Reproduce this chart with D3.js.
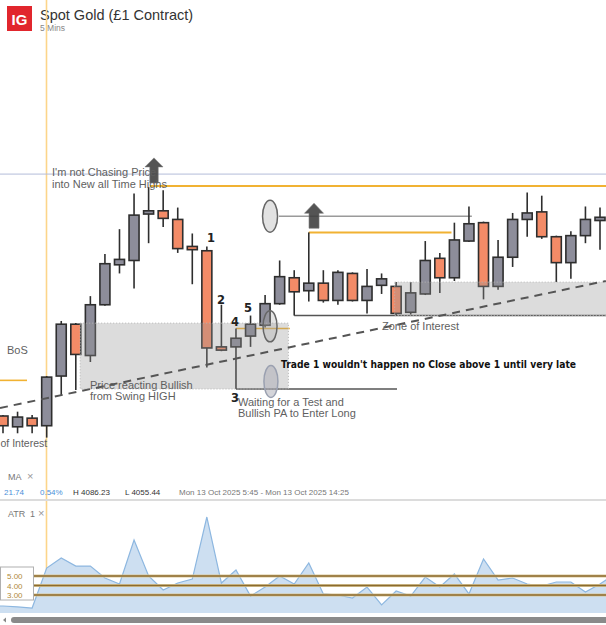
<!DOCTYPE html>
<html><head><meta charset="utf-8">
<script src="https://cdn.jsdelivr.net/npm/d3@7"></script>
<style>body{margin:0;background:#fff;overflow:hidden}svg{display:block}</style>
</head><body>
<svg id="c" width="606" height="625"></svg>
<script>
// ---- data (5-minute candles, Spot Gold) ----
const opens  = [4065.0,4064.0,4064.8,4064.1,4068.7,4073.5,4070.6,4075.3,4079.0,4079.4,4083.7,4084.0,4083.2,4080.7,4080.3,4071.4,4071.4,4072.4,4073.4,4075.4,4077.8,4076.6,4077.3,4075.7,4078.2,4075.7,4077.1,4077.0,4074.6,4076.3,4079.6,4077.8,4081.2,4082.9,4077.0,4079.7,4083.2,4083.9,4081.6,4079.2,4081.7,4083.1];
const highs  = [4065.1,4065.4,4065.1,4068.7,4073.8,4073.6,4076.1,4080.0,4082.3,4085.6,4086.2,4085.9,4084.3,4081.9,4080.7,4075.3,4073.1,4074.3,4076.2,4079.4,4078.5,4082.0,4078.5,4078.5,4078.3,4078.6,4078.2,4077.4,4077.4,4081.2,4080.1,4082.9,4084.4,4083.0,4081.3,4083.8,4085.7,4085.4,4081.7,4082.1,4084.4,4084.3];
const lows   = [4063.4,4063.4,4063.4,4063.0,4066.9,4067.4,4070.0,4075.2,4078.2,4076.8,4081.0,4082.5,4080.1,4077.2,4069.5,4071.0,4067.5,4071.4,4073.2,4075.3,4074.3,4075.6,4075.5,4075.3,4075.6,4074.5,4076.3,4074.3,4074.4,4076.2,4076.4,4077.5,4081.1,4075.8,4076.7,4078.8,4081.6,4081.4,4077.4,4077.7,4081.0,4080.4];
const closes = [4064.1,4064.9,4064.1,4068.6,4073.5,4070.7,4075.3,4079.1,4079.5,4083.6,4084.0,4083.3,4080.5,4080.4,4071.3,4071.1,4072.2,4073.5,4075.4,4077.9,4076.5,4077.3,4075.7,4078.3,4075.7,4077.0,4077.7,4074.5,4076.4,4079.4,4077.8,4081.3,4082.8,4077.0,4079.7,4083.2,4083.8,4081.6,4079.2,4081.7,4083.2,4083.4];
const atrValues = [1.84,1.74,1.63,5.84,6.89,6.05,6.05,4.79,4.16,8.79,5.0,3.53,4.26,4.68,11.21,4.26,5.63,2.89,3.84,5.0,4.16,6.37,3.11,3.0,2.68,3.84,1.95,3.42,2.89,4.89,3.84,5.21,3.11,6.79,4.58,4.79,4.16,3.95,4.37,4.37,3.32,4.16,5.2];
const atrLevels = [5, 4, 3];
const atrLevelLabels = ["5.00", "4.00", "3.00"];
const statsLine = [["21.74","#4a90d9",4],["0.54%","#4a90d9",40],["H 4086.23","#333",73],["L 4055.44","#333",125],["Mon 13 Oct 2025 5:45 - Mon 13 Oct 2025 14:25","#777",179]];

const candles = opens.map((o,i)=>({i, o, h:highs[i], l:lows[i], c:closes[i]}));

const svg = d3.select("#c");
const x  = d3.scaleLinear().domain([0, 41]).range([3, 600]);
const y  = d3.scaleLinear().domain([4060, 4090]).range([470, 146]);
const yA = d3.scaleLinear().domain([0, 12]).range([623.5, 509.5]);

const GREY = "#8d8d9a", ORANGE = "#f38b67", EDGE = "#2e2e2e", GOLD = "#f1b232", TXT = "#5f5f5f";
const sans = "'Liberation Sans', Arial, sans-serif";
const comic = "'Comic Sans MS', 'DejaVu Sans', sans-serif";

// header
svg.append("rect").attr("x",7).attr("y",6).attr("width",25).attr("height",25).attr("fill","#e1262d");
svg.append("text").attr("x",19.5).attr("y",25).attr("text-anchor","middle").attr("fill","#fff")
  .attr("font-family",sans).attr("font-weight","bold").attr("font-size",15).text("IG");
svg.append("text").attr("x",40).attr("y",20).attr("fill","#333").attr("font-family",sans).attr("font-size",14.5).text("Spot Gold (£1 Contract)");
svg.append("text").attr("x",40).attr("y",31).attr("fill","#888").attr("font-family",sans).attr("font-size",8.5).text("5 Mins");

// vertical crosshair
svg.append("line").attr("x1",46.5).attr("x2",46.5).attr("y1",0).attr("y2",613).attr("stroke","#fcd58a").attr("stroke-width",1.6);

// blue reference line
svg.append("line").attr("x1",0).attr("x2",606).attr("y1",y(4087.4)).attr("y2",y(4087.4)).attr("stroke","#b3bcd9").attr("stroke-width",1);

// ATH gold line
svg.append("line").attr("x1",x(10.1)).attr("x2",606).attr("y1",y(4086.3)).attr("y2",y(4086.3)).attr("stroke",GOLD).attr("stroke-width",2);
// grey level from ellipse
svg.append("line").attr("x1",x(18.95)).attr("x2",x(32.2)).attr("y1",y(4083.5)).attr("y2",y(4083.5)).attr("stroke","#9a9a9a").attr("stroke-width",1.5);
// gold line from candle 21 high
svg.append("line").attr("x1",x(21)).attr("x2",x(30.8)).attr("y1",y(4082.0)).attr("y2",y(4082.0)).attr("stroke",GOLD).attr("stroke-width",2);
// BoS gold line
svg.append("line").attr("x1",0).attr("x2",27).attr("y1",y(4068.3)).attr("y2",y(4068.3)).attr("stroke",GOLD).attr("stroke-width",1.6);
// short gold line near candle 5
svg.append("line").attr("x1",x(16)).attr("x2",x(19.7)).attr("y1",y(4073.1)).attr("y2",y(4073.1)).attr("stroke",GOLD).attr("stroke-width",1.5);
// low of candle "3" horizontal
svg.append("line").attr("x1",x(16)).attr("x2",x(27.06)).attr("y1",y(4067.5)).attr("y2",y(4067.5)).attr("stroke","#555").attr("stroke-width",1.5);
// zone bottom line
svg.append("line").attr("x1",x(20)).attr("x2",606).attr("y1",y(4074.3)).attr("y2",y(4074.3)).attr("stroke","#555").attr("stroke-width",1.5);

// candles
const g = svg.append("g");
g.selectAll("line.w").data(candles).join("line").attr("class","w")
  .attr("x1",d=>x(d.i)).attr("x2",d=>x(d.i)).attr("y1",d=>y(d.h)).attr("y2",d=>y(d.l))
  .attr("stroke",EDGE).attr("stroke-width",1.6);
g.selectAll("rect.b").data(candles).join("rect").attr("class","b")
  .attr("x",d=>x(d.i)-5).attr("width",10)
  .attr("y",d=>y(Math.max(d.o,d.c))).attr("height",d=>Math.max(2.5,Math.abs(y(d.o)-y(d.c))))
  .attr("fill",d=>d.c>=d.o?GREY:ORANGE).attr("stroke",EDGE).attr("stroke-width",1.6);

// zones (overlay)
svg.append("rect").attr("x",x(5.3)).attr("width",x(19.6)-x(5.3)).attr("y",y(4073.6)).attr("height",y(4067.5)-y(4073.6))
  .attr("fill","rgba(150,150,150,0.33)").attr("stroke","#b5b5b5").attr("stroke-dasharray","1,2");
svg.append("rect").attr("x",x(26.9)).attr("width",620-x(26.9)).attr("y",y(4077.4)).attr("height",y(4074.3)-y(4077.4))
  .attr("fill","rgba(150,150,150,0.33)").attr("stroke","#b5b5b5").attr("stroke-dasharray","1,2");

// dashed trend line
svg.append("line").attr("x1",x(-0.206)).attr("y1",y(4065.74)).attr("x2",x(41.4)).attr("y2",y(4077.5))
  .attr("stroke","#555").attr("stroke-width",2).attr("stroke-dasharray","8,6");

// ellipses
svg.append("ellipse").attr("cx",x(18.34)).attr("cy",y(4083.5)).attr("rx",7.5).attr("ry",16).attr("fill","#e2e2e2").attr("stroke","#666").attr("stroke-width",1.5);
svg.append("ellipse").attr("cx",x(18.34)).attr("cy",y(4073.3)).attr("rx",7).attr("ry",15.5).attr("fill","rgba(170,170,170,0.3)").attr("stroke","#666").attr("stroke-width",1.5);
svg.append("ellipse").attr("cx",x(18.4)).attr("cy",y(4068.2)).attr("rx",7).attr("ry",16).attr("fill","rgba(170,170,180,0.5)").attr("stroke","#9aa0b0").attr("stroke-width",1.5);

// arrows
function arrow(cx, top, hw, hh, sw, len){
  const p = d3.path();
  p.moveTo(cx, top); p.lineTo(cx+hw, top+hh); p.lineTo(cx+sw, top+hh); p.lineTo(cx+sw, top+len);
  p.lineTo(cx-sw, top+len); p.lineTo(cx-sw, top+hh); p.lineTo(cx-hw, top+hh); p.closePath();
  svg.append("path").attr("d",p.toString()).attr("fill","#3c3c3c").attr("fill-opacity",0.88).attr("stroke","#777").attr("stroke-width",0.6);
}
arrow(x(10.37), y(4088.9), 9, 9, 4.2, 25);
arrow(x(21.36), y(4084.7), 9.5, 10, 5, 25);

// annotation text
function txt(s, tx, ty, opts={}){
  const t = svg.append("text").attr("x",tx).attr("y",ty).attr("fill",opts.fill||TXT)
    .attr("font-family",opts.font||sans).attr("font-size",opts.size||11)
    .attr("font-weight",opts.weight||"normal").attr("text-anchor",opts.anchor||"start").text(s);
  if(opts.len) t.attr("textLength",opts.len).attr("lengthAdjust","spacingAndGlyphs");
  return t;
}
txt("I'm not Chasing Price", 52, 176);
txt("into New all Time Highs", 52, 188);
txt("BoS", 7, 354);
txt("Price reacting Bullish", 90, 389);
txt("from Swing HIGH", 90, 400);
txt("Waiting for a Test and", 238, 406);
txt("Bullish PA to Enter Long", 238, 417);
txt("Zone of Interest", 382, 330);
txt("of Interest", 0.5, 447, {size:10.5});
txt("Trade 1 wouldn't happen no Close above 1 until very late", 281, 368, {font:comic, weight:"bold", size:10, fill:"#111", len:295});
[["1",211,242],["2",221,304],["4",235,326],["5",248,312],["3",235,402]].forEach(d=>
  txt(d[0], d[1], d[2], {font:comic, weight:"bold", size:11.5, fill:"#222", anchor:"middle"}));

// MA pane
txt("MA", 8, 480, {size:9, fill:"#777"});
txt("×", 27, 480, {size:11, fill:"#999"});
statsLine.forEach(s=>txt(s[0], s[2], 495, {size:8, fill:s[1]}));
svg.append("rect").attr("x",0).attr("y",499).attr("width",606).attr("height",2).attr("fill","#dcdcdc");

// ATR pane
txt("ATR", 8, 517, {size:9, fill:"#777"});
txt("1", 30, 517, {size:9, fill:"#777"});
txt("×", 38, 517, {size:11, fill:"#999"});
const atrX = i => x(i);
svg.append("clipPath").attr("id","ac").append("rect").attr("x",0).attr("y",502).attr("width",606).attr("height",111);
const ag = svg.append("g").attr("clip-path","url(#ac)");
const atrSeries = [atrValues[0]].concat(atrValues);
ag.append("path").datum(atrSeries).attr("d", d3.area().x((d,i)=>i===0?-5:atrX(i-1)).y0(613).y1(d=>yA(d))).attr("fill","#cddff1");
ag.append("path").datum(atrSeries).attr("d", d3.line().x((d,i)=>i===0?-5:atrX(i-1)).y(d=>yA(d))).attr("fill","none").attr("stroke","#8db7e0").attr("stroke-width",1.2);
atrLevels.forEach(v=>{
  svg.append("line").attr("x1",33).attr("x2",606).attr("y1",yA(v)).attr("y2",yA(v)).attr("stroke","#d9c79a").attr("stroke-width",3.2);
  svg.append("line").attr("x1",33).attr("x2",606).attr("y1",yA(v)).attr("y2",yA(v)).attr("stroke","#8c6b2e").attr("stroke-width",1.3);
});
svg.append("rect").attr("x",0.5).attr("y",567).attr("width",33).attr("height",33).attr("fill","#fff").attr("stroke","#b0b0b0");
atrLevels.forEach((v,k)=>txt(atrLevelLabels[k], 7, yA(v)+3, {size:8, fill:"#b08a3a"}));

// scrollbar
svg.append("rect").attr("x",11).attr("y",617).attr("width",600).attr("height",6).attr("rx",3).attr("fill","#8a8a8a");
svg.append("path").attr("d","M6,617.5 L3,620 L6,622.5 Z").attr("fill","#888");
</script>
</body></html>
